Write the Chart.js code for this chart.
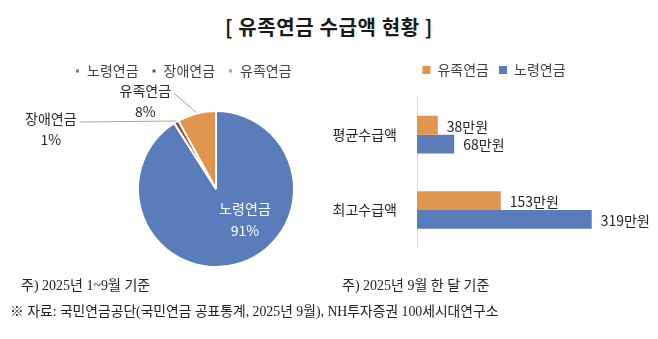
<!DOCTYPE html>
<html>
<head>
<meta charset="utf-8">
<script src="https://cdn.jsdelivr.net/npm/chart.js@4/dist/chart.umd.min.js"></script>
<style>
  body { margin: 0; background: #fff; width: 658px; height: 339px; overflow: hidden; position: relative; font-family: "Noto Sans CJK KR", sans-serif; }
  .title { position: absolute; left: 0; width: 658px; top: 12px; text-align: center; font-size: 20px; font-weight: bold; letter-spacing: 0.6px; color: #1a1a1a; }
  .note { position: absolute; font-family: "Liberation Serif", "Noto Sans CJK KR", serif; font-size: 14px; color: #222; white-space: nowrap; }
  #pieBox { position: absolute; left: 0; top: 51px; width: 432px; height: 250px; }
  #barBox { position: absolute; left: 330px; top: 53px; width: 328px; height: 215px; }
</style>
</head>
<body>
<div class="title">[ 유족연금 수급액 현황 ]</div>
<div id="pieBox"><canvas id="pieChart"></canvas></div>
<div id="barBox"><canvas id="barChart"></canvas></div>
<div class="note" style="left:21px; top:274px;">주) 2025년 1~9월 기준</div>
<div class="note" style="left:342px; top:274px;">주) 2025년 9월 한 달 기준</div>
<div class="note" style="left:10px; top:300px; font-size:13.8px;">※ 자료: 국민연금공단(국민연금 공표통계, 2025년 9월), NH투자증권 100세시대연구소</div>
<script>
Chart.defaults.font.family = '"Noto Sans CJK KR", sans-serif'
Chart.defaults.font.size = 14
Chart.defaults.color = "#333333"

// pie: share of pension types (%)
var pieLabels = ["노령연금", "장애연금", "유족연금"]
var pieValues = [91, 1, 8]
var pieColors = ["#5B7CBB", "#9B3F3A", "#E0964F"]

// bar: monthly amount (만원)
var barCategories = ["평균수급액", "최고수급액"]
var survivorAmounts = [38, 153]
var oldAgeAmounts = [68, 319]

const BLUE = "#5B7CBB"
const ORANGE = "#E0964F"

//labels around the pie with leader lines
const pieLabelPlugin = {
    id: 'pieLabelPlugin',
    afterDatasetsDraw(chart) {
        const ctx = chart.ctx
        const arcs = chart.getDatasetMeta(0).data
        // offsets of the label block from the slice's outer edge
        const offsets = [null, {dx: -125, dy: -2}, {dx: -51, dy: -22}]
        ctx.save()
        ctx.font = '14px "Noto Sans CJK KR"'
        ctx.textAlign = 'center'
        ctx.textBaseline = 'middle'
        arcs.forEach((arc, i) => {
            const pct = pieValues[i] + '%'
            if (i === 0) {
                ctx.fillStyle = '#ffffff'
                ctx.fillText(pieLabels[i], arc.x + 29, arc.y + 20)
                ctx.fillText(pct, arc.x + 29, arc.y + 42)
                return
            }
            const mid = (arc.startAngle + arc.endAngle) / 2
            const ax = arc.x + Math.cos(mid) * (arc.outerRadius + 1)
            const ay = arc.y + Math.sin(mid) * (arc.outerRadius + 1)
            const lx = ax + offsets[i].dx
            const ly = ay + offsets[i].dy
            ctx.fillStyle = '#262626'
            ctx.fillText(pieLabels[i], lx, ly)
            ctx.fillText(pct, lx, ly + 21)
            const w = ctx.measureText(pieLabels[i]).width
            ctx.strokeStyle = '#A6A6A6'
            ctx.lineWidth = 1
            ctx.beginPath()
            ctx.moveTo(lx + w / 2 + 3, ly + 3)
            ctx.lineTo(ax, ay)
            ctx.stroke()
        })
        ctx.restore()
    }
}

//value labels at the end of each bar
const barLabelPlugin = {
    id: 'barLabelPlugin',
    afterDatasetsDraw(chart) {
        const ctx = chart.ctx
        ctx.save()
        ctx.font = '14px "Noto Sans CJK KR"'
        ctx.fillStyle = '#262626'
        ctx.textAlign = 'left'
        ctx.textBaseline = 'middle'
        chart.data.datasets.forEach((ds, d) => {
            chart.getDatasetMeta(d).data.forEach((bar, i) => {
                ctx.fillText(ds.data[i] + '만원', bar.x + 9, bar.y + 1)
            })
        })
        ctx.restore()
    }
}

//push the plot area down below the legend
const legendGap = {
    id: 'legendGap',
    beforeInit(chart) {
        const fit = chart.legend.fit
        chart.legend.fit = function () {
            fit.bind(chart.legend)()
            this.height += 10
        }
    }
}

new Chart(document.getElementById('pieChart'), {
    type: 'pie',
    data: {
        labels: pieLabels,
        datasets: [{
            data: pieValues,
            backgroundColor: pieColors,
            borderColor: '#ffffff',
            borderWidth: 2
        }]
    },
    options: {
        responsive: true,
        maintainAspectRatio: false,
        animation: false,
        radius: 78,
        layout: { padding: { left: 62, right: 62, top: 0, bottom: 11 } },
        plugins: {
            legend: {
                position: 'top',
                align: 'start',
                labels: { boxWidth: 5, boxHeight: 5, padding: 13, color: '#404040' }
            },
            tooltip: { enabled: false }
        }
    },
    plugins: [pieLabelPlugin]
})

new Chart(document.getElementById('barChart'), {
    type: 'bar',
    data: {
        labels: barCategories,
        datasets: [
            { label: '유족연금', data: survivorAmounts, backgroundColor: ORANGE },
            { label: '노령연금', data: oldAgeAmounts, backgroundColor: BLUE }
        ]
    },
    options: {
        indexAxis: 'y',
        responsive: true,
        maintainAspectRatio: false,
        animation: false,
        layout: { padding: { left: 0, right: 0, top: 0, bottom: 10 } },
        datasets: { bar: { categoryPercentage: 0.5, barPercentage: 1.0 } },
        scales: {
            x: { display: false, min: 0, max: 440 },
            y: {
                grid: { display: false },
                border: { display: true, color: '#D9D9D9' },
                ticks: { padding: 12, color: '#262626' },
                afterFit: (scale) => { scale.width = 87 }
            }
        },
        plugins: {
            legend: {
                position: 'top',
                labels: { boxWidth: 8, boxHeight: 8, padding: 10, color: '#404040' }
            },
            tooltip: { enabled: false }
        }
    },
    plugins: [barLabelPlugin, legendGap]
})
</script>
</body>
</html>
